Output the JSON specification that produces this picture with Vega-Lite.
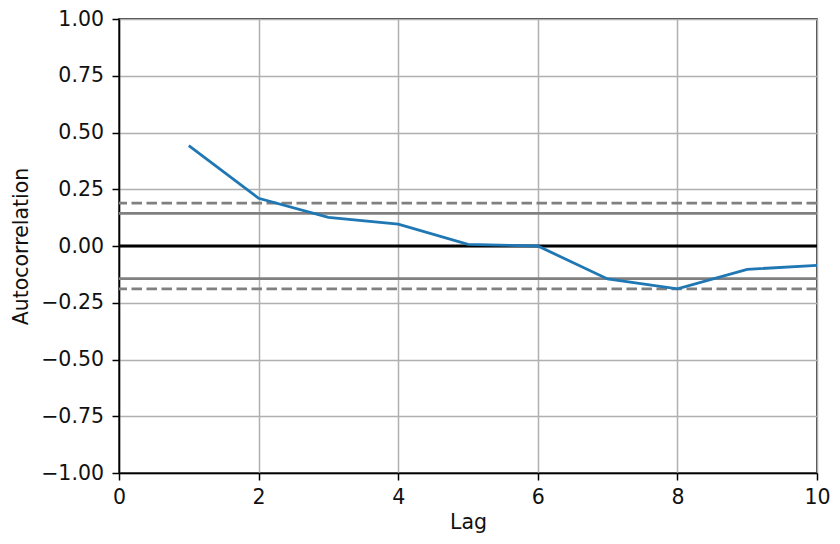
{
  "$schema": "https://vega.github.io/schema/vega-lite/v6.json",
  "width": 698,
  "height": 454,
  "autosize": {"type": "none"},
  "padding": {"left": 119, "top": 19, "right": 23, "bottom": 71},
  "background": "white",
  "config": {
    "view": {"stroke": "black", "strokeWidth": 1.5},
    "font": "DejaVu Sans",
    "axis": {
      "labelFont": "DejaVu Sans",
      "titleFont": "DejaVu Sans",
      "labelFontSize": 20.5,
      "titleFontSize": 20.5,
      "titleFontWeight": "normal",
      "labelColor": "#111111",
      "titleColor": "#111111",
      "domainColor": "black",
      "domainWidth": 1.5,
      "tickColor": "black",
      "tickSize": 7,
      "tickWidth": 1.5,
      "labelPadding": 7,
      "labelFlush": false,
      "labelOverlap": false,
      "gridColor": "#b0b0b0",
      "gridWidth": 1.5,
      "gridOpacity": 1
    },
    "axisLeft": {"labelPadding": 8.5}
  },
  "datasets": {
    "acf": [
      {"lag": 1, "ac": 0.442},
      {"lag": 2, "ac": 0.21},
      {"lag": 3, "ac": 0.126},
      {"lag": 4, "ac": 0.096},
      {"lag": 5, "ac": 0.007},
      {"lag": 6, "ac": 0.0},
      {"lag": 7, "ac": -0.145},
      {"lag": 8, "ac": -0.189},
      {"lag": 9, "ac": -0.103},
      {"lag": 10, "ac": -0.085}
    ],
    "z95": [{"v": 0.144}, {"v": -0.144}],
    "z99": [{"v": 0.189}, {"v": -0.189}],
    "zero": [{"v": 0}]
  },
  "layer": [
    {
      "data": {"name": "z95"},
      "mark": {"type": "rule", "color": "grey", "strokeWidth": 2.8},
      "encoding": {
        "y": {"field": "v", "type": "quantitative", "scale": {"domain": [-1, 1]},
          "axis": {"values": [-1, -0.75, -0.5, -0.25, 0, 0.25, 0.5, 0.75, 1], "format": ".2f", "title": "Autocorrelation", "titlePadding": 9}}
      }
    },
    {
      "data": {"name": "z99"},
      "mark": {"type": "rule", "color": "grey", "strokeWidth": 2.8, "strokeDash": [10.5, 4.5]},
      "encoding": {
        "y": {"field": "v", "type": "quantitative"}
      }
    },
    {
      "data": {"name": "zero"},
      "mark": {"type": "rule", "color": "black", "strokeWidth": 2.8},
      "encoding": {
        "y": {"field": "v", "type": "quantitative"}
      }
    },
    {
      "data": {"name": "acf"},
      "mark": {"type": "line", "color": "#1f77b4", "strokeWidth": 2.8},
      "encoding": {
        "x": {"field": "lag", "type": "quantitative", "scale": {"domain": [0, 10], "nice": false},
          "axis": {"values": [0, 2, 4, 6, 8, 10], "title": "Lag", "titlePadding": 5}},
        "y": {"field": "ac", "type": "quantitative"}
      }
    }
  ]
}
